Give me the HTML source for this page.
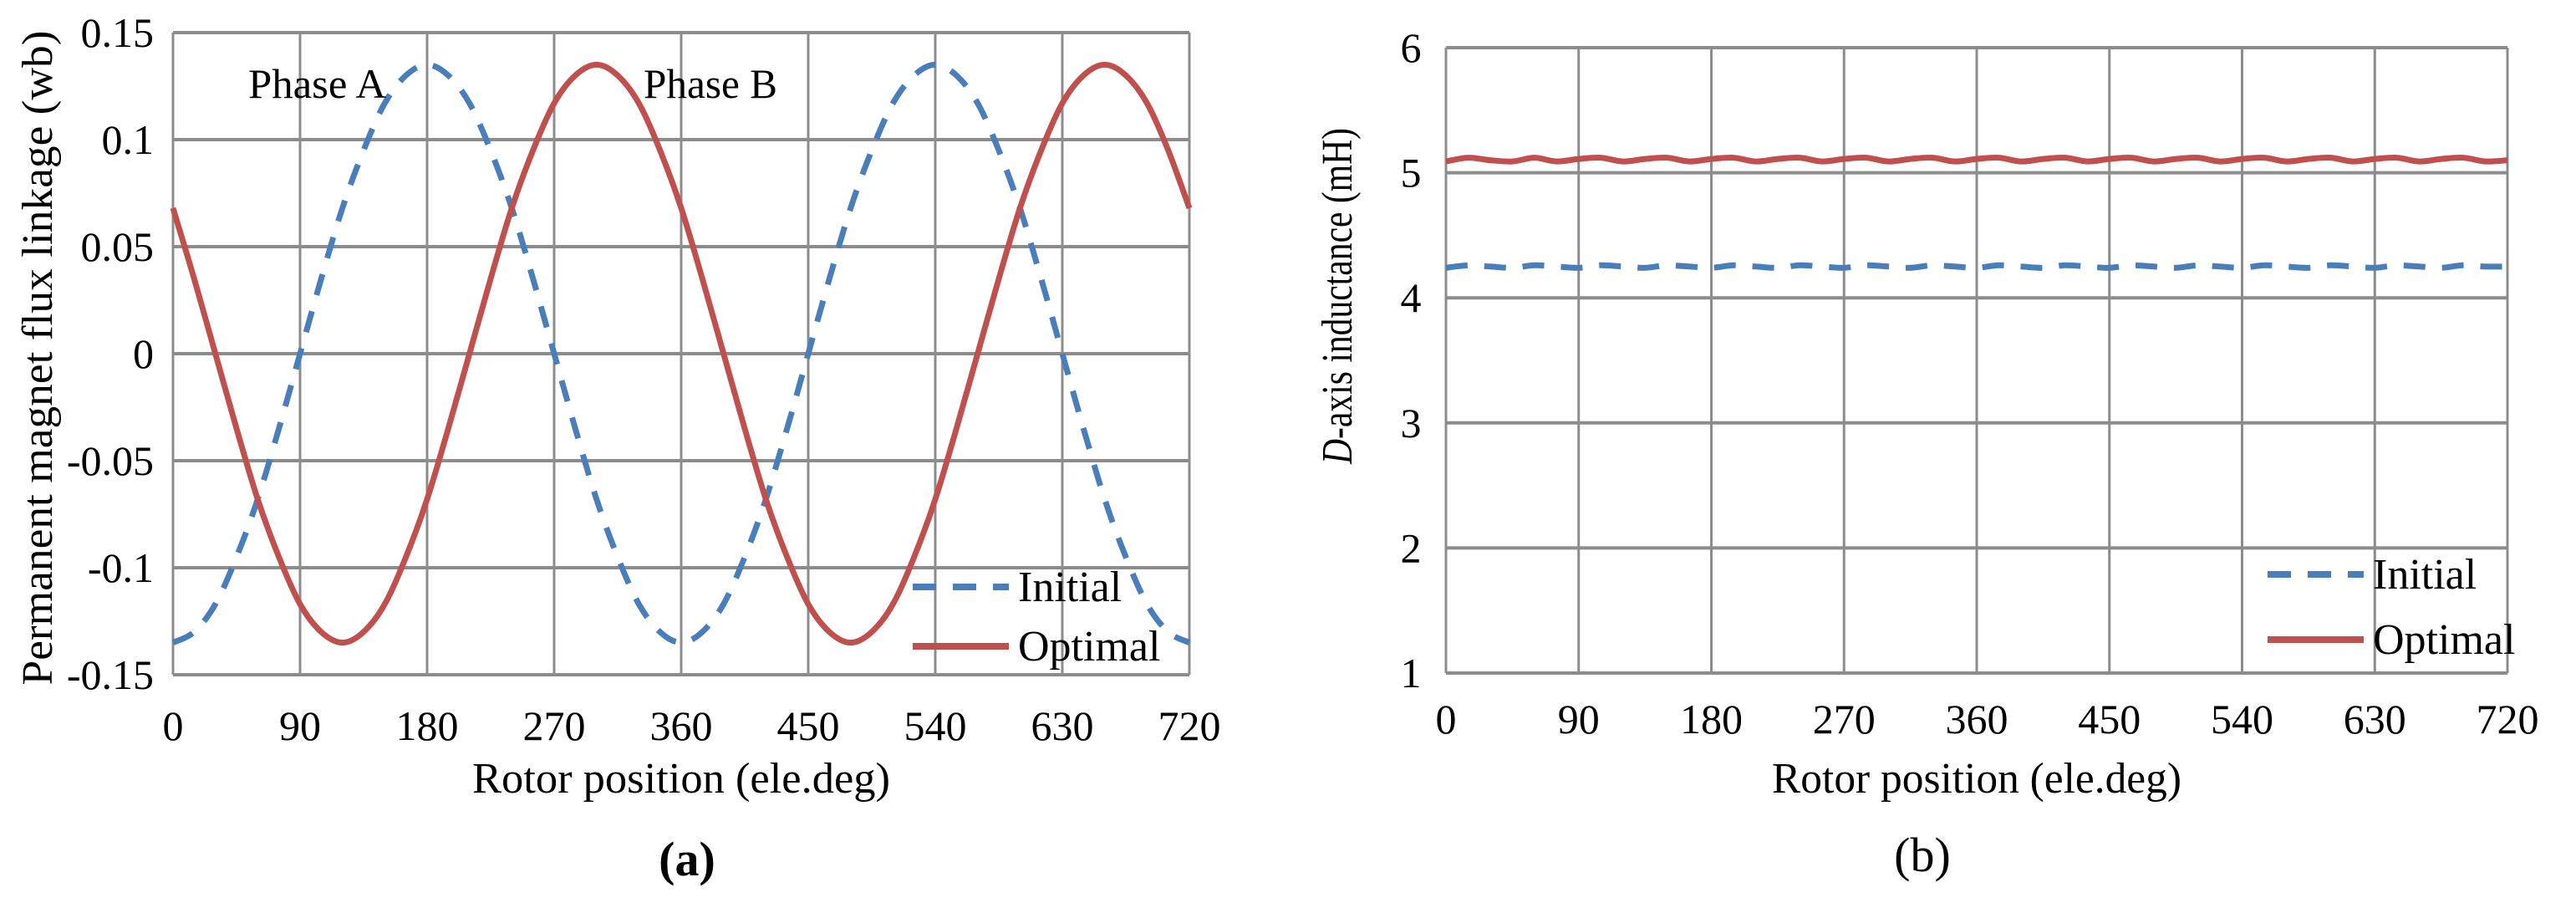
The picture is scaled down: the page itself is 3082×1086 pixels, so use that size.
<!DOCTYPE html>
<html><head><meta charset="utf-8"><style>
html,body{margin:0;padding:0;background:#fff;}
svg{display:block;font-family:"Liberation Serif",serif;}
</style></head><body>
<svg id="fig" width="3082" height="1086" viewBox="0 0 3082 1086" xmlns="http://www.w3.org/2000/svg">
<g id="chartA"></g>
<g id="chartB"></g>
</svg>
<script>
const xTicks = [0, 90, 180, 270, 360, 450, 540, 630, 720];
const anglesA = [0,15,30,45,60,75,90,105,120,135,150,165,180,195,210,225,240,255,270,285,300,315,330,345,360,375,390,405,420,435,450,465,480,495,510,525,540,555,570,585,600,615,630,645,660,675,690,705,720];
const initialFlux = [-0.135,-0.130,-0.117,-0.095,-0.068,-0.035,0,0.035,0.068,0.095,0.117,0.130,0.135,0.130,0.117,0.095,0.068,0.035,0,-0.035,-0.068,-0.095,-0.117,-0.130,-0.135,-0.130,-0.117,-0.095,-0.068,-0.035,0,0.035,0.068,0.095,0.117,0.130,0.135,0.130,0.117,0.095,0.068,0.035,0,-0.035,-0.068,-0.095,-0.117,-0.130,-0.135];
const optimalFlux = [0.068,0.035,0,-0.035,-0.068,-0.095,-0.117,-0.130,-0.135,-0.130,-0.117,-0.095,-0.068,-0.035,0,0.035,0.068,0.095,0.117,0.130,0.135,0.130,0.117,0.095,0.068,0.035,0,-0.035,-0.068,-0.095,-0.117,-0.130,-0.135,-0.130,-0.117,-0.095,-0.068,-0.035,0,0.035,0.068,0.095,0.117,0.130,0.135,0.130,0.117,0.095,0.068];
const yTicksA = [0.15, 0.1, 0.05, 0, -0.05, -0.1, -0.15];
const yTickLabelsA = ["0.15","0.1","0.05","0","-0.05","-0.1","-0.15"];
const anglesB = [0,15,30,45,60,75,90,105,120,135,150,165,180,195,210,225,240,255,270,285,300,315,330,345,360,375,390,405,420,435,450,465,480,495,510,525,540,555,570,585,600,615,630,645,660,675,690,705,720];
const initialL = [4.24,4.26,4.25,4.24,4.26,4.25,4.24,4.26,4.25,4.24,4.26,4.25,4.24,4.26,4.25,4.24,4.26,4.25,4.24,4.26,4.25,4.24,4.26,4.25,4.24,4.26,4.25,4.24,4.26,4.25,4.24,4.26,4.25,4.24,4.26,4.25,4.24,4.26,4.25,4.24,4.26,4.25,4.24,4.26,4.25,4.24,4.26,4.25,4.25];
const optimalL = [5.09,5.12,5.10,5.09,5.12,5.09,5.11,5.12,5.09,5.11,5.12,5.09,5.11,5.12,5.09,5.11,5.12,5.09,5.11,5.12,5.09,5.11,5.12,5.09,5.11,5.12,5.09,5.11,5.12,5.09,5.11,5.12,5.09,5.11,5.12,5.09,5.11,5.12,5.09,5.11,5.12,5.09,5.11,5.12,5.09,5.11,5.12,5.09,5.10];
const yTicksB = [6, 5, 4, 3, 2, 1];

const NS = "http://www.w3.org/2000/svg";
function mk(tag, attrs, parent){ const e=document.createElementNS(NS,tag); for(const k in attrs) e.setAttribute(k,attrs[k]); parent.appendChild(e); return e; }
function smooth(pts){
  let d="M"+pts[0][0].toFixed(1)+","+pts[0][1].toFixed(1);
  for(let i=0;i<pts.length-1;i++){
    const p0=pts[i-1]||pts[i], p1=pts[i], p2=pts[i+1], p3=pts[i+2]||p2;
    const c1=[p1[0]+(p2[0]-p0[0])/6, p1[1]+(p2[1]-p0[1])/6];
    const c2=[p2[0]-(p3[0]-p1[0])/6, p2[1]-(p3[1]-p1[1])/6];
    d+=" C"+c1[0].toFixed(1)+","+c1[1].toFixed(1)+" "+c2[0].toFixed(1)+","+c2[1].toFixed(1)+" "+p2[0].toFixed(1)+","+p2[1].toFixed(1);
  }
  return d;
}
const BLUE="#4a7ebb", RED="#c0504d", GRID="#8c8c8c";

function drawChart(g, cfg){
  const xs = v => cfg.L + (v - 0) / 720 * (cfg.R - cfg.L);
  const ys = v => cfg.B - (v - cfg.ymin) / (cfg.ymax - cfg.ymin) * (cfg.B - cfg.T);
  const grid = mk("g",{},g);
  
  
  xTicks.forEach(t=>{ mk("line",{x1:xs(t),x2:xs(t),y1:cfg.T,y2:cfg.B,stroke:GRID,"stroke-width":3},grid); });
  cfg.yTicks.forEach(t=>{ mk("line",{x1:cfg.L,x2:cfg.R,y1:ys(t),y2:ys(t),stroke:GRID,"stroke-width":4},grid); });
  const yl = mk("g",{},g);
  
  
  cfg.yTicks.forEach((t,i)=>{
    const tx = mk("text",{x:cfg.ylx,y:ys(t)+17,"font-size":50,"text-anchor":cfg.yAnchor},yl);
    tx.textContent = cfg.yLabels[i];
  });
  const xl = mk("g",{},g);
  
  
  xTicks.forEach(t=>{
    const tx = mk("text",{x:xs(t),y:cfg.xly,"font-size":50,"text-anchor":"middle"},xl);
    tx.textContent = String(t);
  });
  const s1 = mk("path",{d:smooth(cfg.ang.map((a,i)=>[xs(a),ys(cfg.s1[i])])),fill:"none",stroke:BLUE,"stroke-width":7,"stroke-dasharray":cfg.dash},g);
  
  
  const s2 = mk("path",{d:smooth(cfg.ang.map((a,i)=>[xs(a),ys(cfg.s2[i])])),fill:"none",stroke:RED,"stroke-width":7},g);
  
  
  const lg = mk("g",{},g);
  
  
  mk("line",{x1:cfg.lgx,x2:cfg.lgx+115,y1:cfg.lgy1,y2:cfg.lgy1,stroke:BLUE,"stroke-width":8,"stroke-dasharray":"28 20"},lg);
  const t1 = mk("text",{x:cfg.lgx+126,y:cfg.lgy1+17,"font-size":52},lg); t1.textContent="Initial";
  
  
  mk("line",{x1:cfg.lgx,x2:cfg.lgx+115,y1:cfg.lgy2,y2:cfg.lgy2,stroke:RED,"stroke-width":8},lg);
  const t2 = mk("text",{x:cfg.lgx+126,y:cfg.lgy2+17,"font-size":52},lg); t2.textContent="Optimal";
  
  
}

const gA = document.getElementById("chartA");
drawChart(gA,{L:207,R:1423,T:39,B:807,ymin:-0.15,ymax:0.15,yTicks:yTicksA,yLabels:yTickLabelsA,ylx:184,yAnchor:"end",xly:885,ang:anglesA,s1:initialFlux,s2:optimalFlux,dash:"26 20",lgx:1092,lgy1:702,lgy2:773});
const gB = document.getElementById("chartB");
drawChart(gB,{L:1730,R:3000,T:57,B:805,ymin:1,ymax:6,yTicks:yTicksB,yLabels:yTicksB.map(String),ylx:1688,yAnchor:"middle",xly:877,ang:anglesB,s1:initialL,s2:optimalL,dash:"26 20",lgx:2713,lgy1:687,lgy2:765});
</script>
<g></g>
<svg width="0" height="0" style="position:absolute"></svg>
<script>
const svg=document.getElementById("fig");
function addText(txt,attrs,name){ const e=document.createElementNS("http://www.w3.org/2000/svg","text"); for(const k in attrs) e.setAttribute(k,attrs[k]); e.textContent=txt; svg.appendChild(e);
 
 
 return e;}
addText("Phase A",{x:297,y:117,"font-size":50,textLength:165,lengthAdjust:"spacingAndGlyphs"},"phase-a-label");
addText("Phase B",{x:770,y:117,"font-size":50,textLength:160,lengthAdjust:"spacingAndGlyphs"},"phase-b-label");
addText("Permanent magnet flux linkage (wb)",{x:0,y:0,"font-size":52,"text-anchor":"middle",transform:"translate(62,428) rotate(-90)",textLength:783,lengthAdjust:"spacingAndGlyphs"},"y-axis-title-a");
addText("Rotor position (ele.deg)",{x:815,y:948,"font-size":52,"text-anchor":"middle",textLength:500,lengthAdjust:"spacingAndGlyphs"},"x-axis-title-a");
addText("(a)",{x:822,y:1047,"font-size":58,"text-anchor":"middle","font-weight":"bold"},"caption-a");
const yb=addText("",{x:0,y:0,"font-size":52,"text-anchor":"middle",transform:"translate(1617,354) rotate(-90)",textLength:402,lengthAdjust:"spacingAndGlyphs"},"y-axis-title-b");
yb.innerHTML='<tspan font-style="italic">D</tspan>-axis inductance (mH)';
addText("Rotor position (ele.deg)",{x:2365,y:948,"font-size":52,"text-anchor":"middle",textLength:490,lengthAdjust:"spacingAndGlyphs"},"x-axis-title-b");
addText("(b)",{x:2300,y:1042,"font-size":58,"text-anchor":"middle"},"caption-b");
</script>
</body></html>
